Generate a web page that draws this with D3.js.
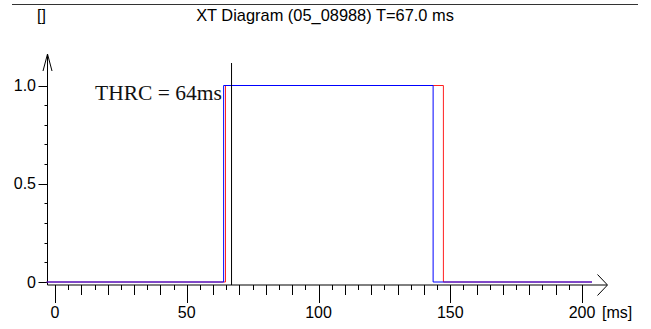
<!DOCTYPE html>
<html>
<head>
<meta charset="utf-8">
<script src="https://cdn.jsdelivr.net/npm/d3@7"></script>
<style>
  html, body { margin: 0; padding: 0; background: #fff; }
  svg { display: block; font-family: "Liberation Sans", Arial, sans-serif; }
</style>
</head>
<body>
<svg id="chart" width="651" height="329"></svg>
<script>
// Signal traces as [time ms, level] step points
const blueTrace = [[-3.2, 0], [64.0, 0], [64.0, 1], [143.5, 1], [143.5, 0], [203.8, 0]];
const redTrace  = [[-3.2, 0], [64.7, 0], [64.7, 1], [147.4, 1], [147.4, 0], [203.8, 0]];
const cursorTime = 67.0;
const xMajorTicks = [0, 50, 100, 150, 200];
const yMajorTicks = [0, 0.5, 1.0];
const yTickLabels = ["0", "0.5", "1.0"];
const titleText = "XT Diagram (05_08988) T=67.0 ms";
const unitText = "[]";
const xUnitText = "[ms]";
const annotation = "THRC = 64ms";

const svg = d3.select("#chart");

const x = d3.scaleLinear().domain([0, 200]).range([55, 582]);
const y = d3.scaleLinear().domain([0, 1]).range([282, 85.5]);

const axisY = 285;     // horizontal axis line position
const axisX = 47.5;    // vertical axis line position

// header rule and title
svg.append("line").attr("x1", 12).attr("x2", 638).attr("y1", 4.5).attr("y2", 4.5)
  .attr("stroke", "#333").attr("stroke-width", 1);
svg.append("text").attr("x", 41.5).attr("y", 21).attr("text-anchor", "middle")
  .attr("font-size", 16).text(unitText);
svg.append("text").attr("x", 325).attr("y", 21).attr("text-anchor", "middle")
  .attr("font-size", 16.4).text(titleText);

const axes = svg.append("g").attr("stroke", "#000").attr("fill", "none").attr("stroke-width", 1);

// vertical axis with arrow
axes.append("line").attr("x1", axisX).attr("x2", axisX).attr("y1", 54).attr("y2", axisY);
axes.append("path").attr("d", `M${axisX - 4.5},71 L${axisX},54 L${axisX + 4.5},71`);

// horizontal axis with arrow
axes.append("line").attr("x1", axisX).attr("x2", 607).attr("y1", axisY).attr("y2", axisY);
axes.append("path").attr("d", `M597.5,274.5 L607.5,285 L597.5,295.5`);

// x ticks every 5 ms: 50 ms long, 10 ms medium, 5 ms short
const xTicks = d3.range(0, 201, 5);
axes.selectAll(".xt").data(xTicks).join("line")
  .attr("x1", d => Math.round(x(d)) + 0.5).attr("x2", d => Math.round(x(d)) + 0.5)
  .attr("y1", axisY)
  .attr("y2", d => axisY + (d % 50 === 0 ? 18 : d % 10 === 0 ? 10 : 5));

// y ticks every 0.1
const yTicks = d3.range(0, 11).map(i => i / 10);
axes.selectAll(".yt").data(yTicks).join("line")
  .attr("y1", d => Math.round(y(d)) + 0.5).attr("y2", d => Math.round(y(d)) + 0.5)
  .attr("x1", axisX)
  .attr("x2", d => axisX - (yMajorTicks.some(m => Math.abs(m - d) < 1e-9) ? 9 : 3));

// tick labels
svg.selectAll(".xl").data(xMajorTicks).join("text")
  .attr("x", d => x(d)).attr("y", 318).attr("text-anchor", "middle")
  .attr("font-size", 16).text(d => d);
svg.append("text").attr("x", 602).attr("y", 318).attr("font-size", 16).text(xUnitText);
svg.selectAll(".yl").data(yMajorTicks).join("text")
  .attr("x", 36).attr("y", d => y(d) + 5.5).attr("text-anchor", "end")
  .attr("font-size", 16).text((d, i) => yTickLabels[i]);

// traces
const line = d3.line().x(d => x(d[0])).y(d => y(d[1]));
svg.append("path").datum(redTrace).attr("d", line)
  .attr("fill", "none").attr("stroke", "#ff2020").attr("stroke-width", 1);
svg.append("path").datum(blueTrace).attr("d", line)
  .attr("fill", "none").attr("stroke", "#0000ff").attr("stroke-width", 1);

// cursor
svg.append("line").attr("x1", x(cursorTime)).attr("x2", x(cursorTime))
  .attr("y1", 63).attr("y2", axisY).attr("stroke", "#000").attr("stroke-width", 1);

// annotation
svg.append("text").attr("x", 95).attr("y", 99.5)
  .style("font-family", "'Liberation Serif', 'Times New Roman', serif")
  .attr("font-size", 21.5).attr("fill", "#111").text(annotation);
</script>
</body>
</html>
